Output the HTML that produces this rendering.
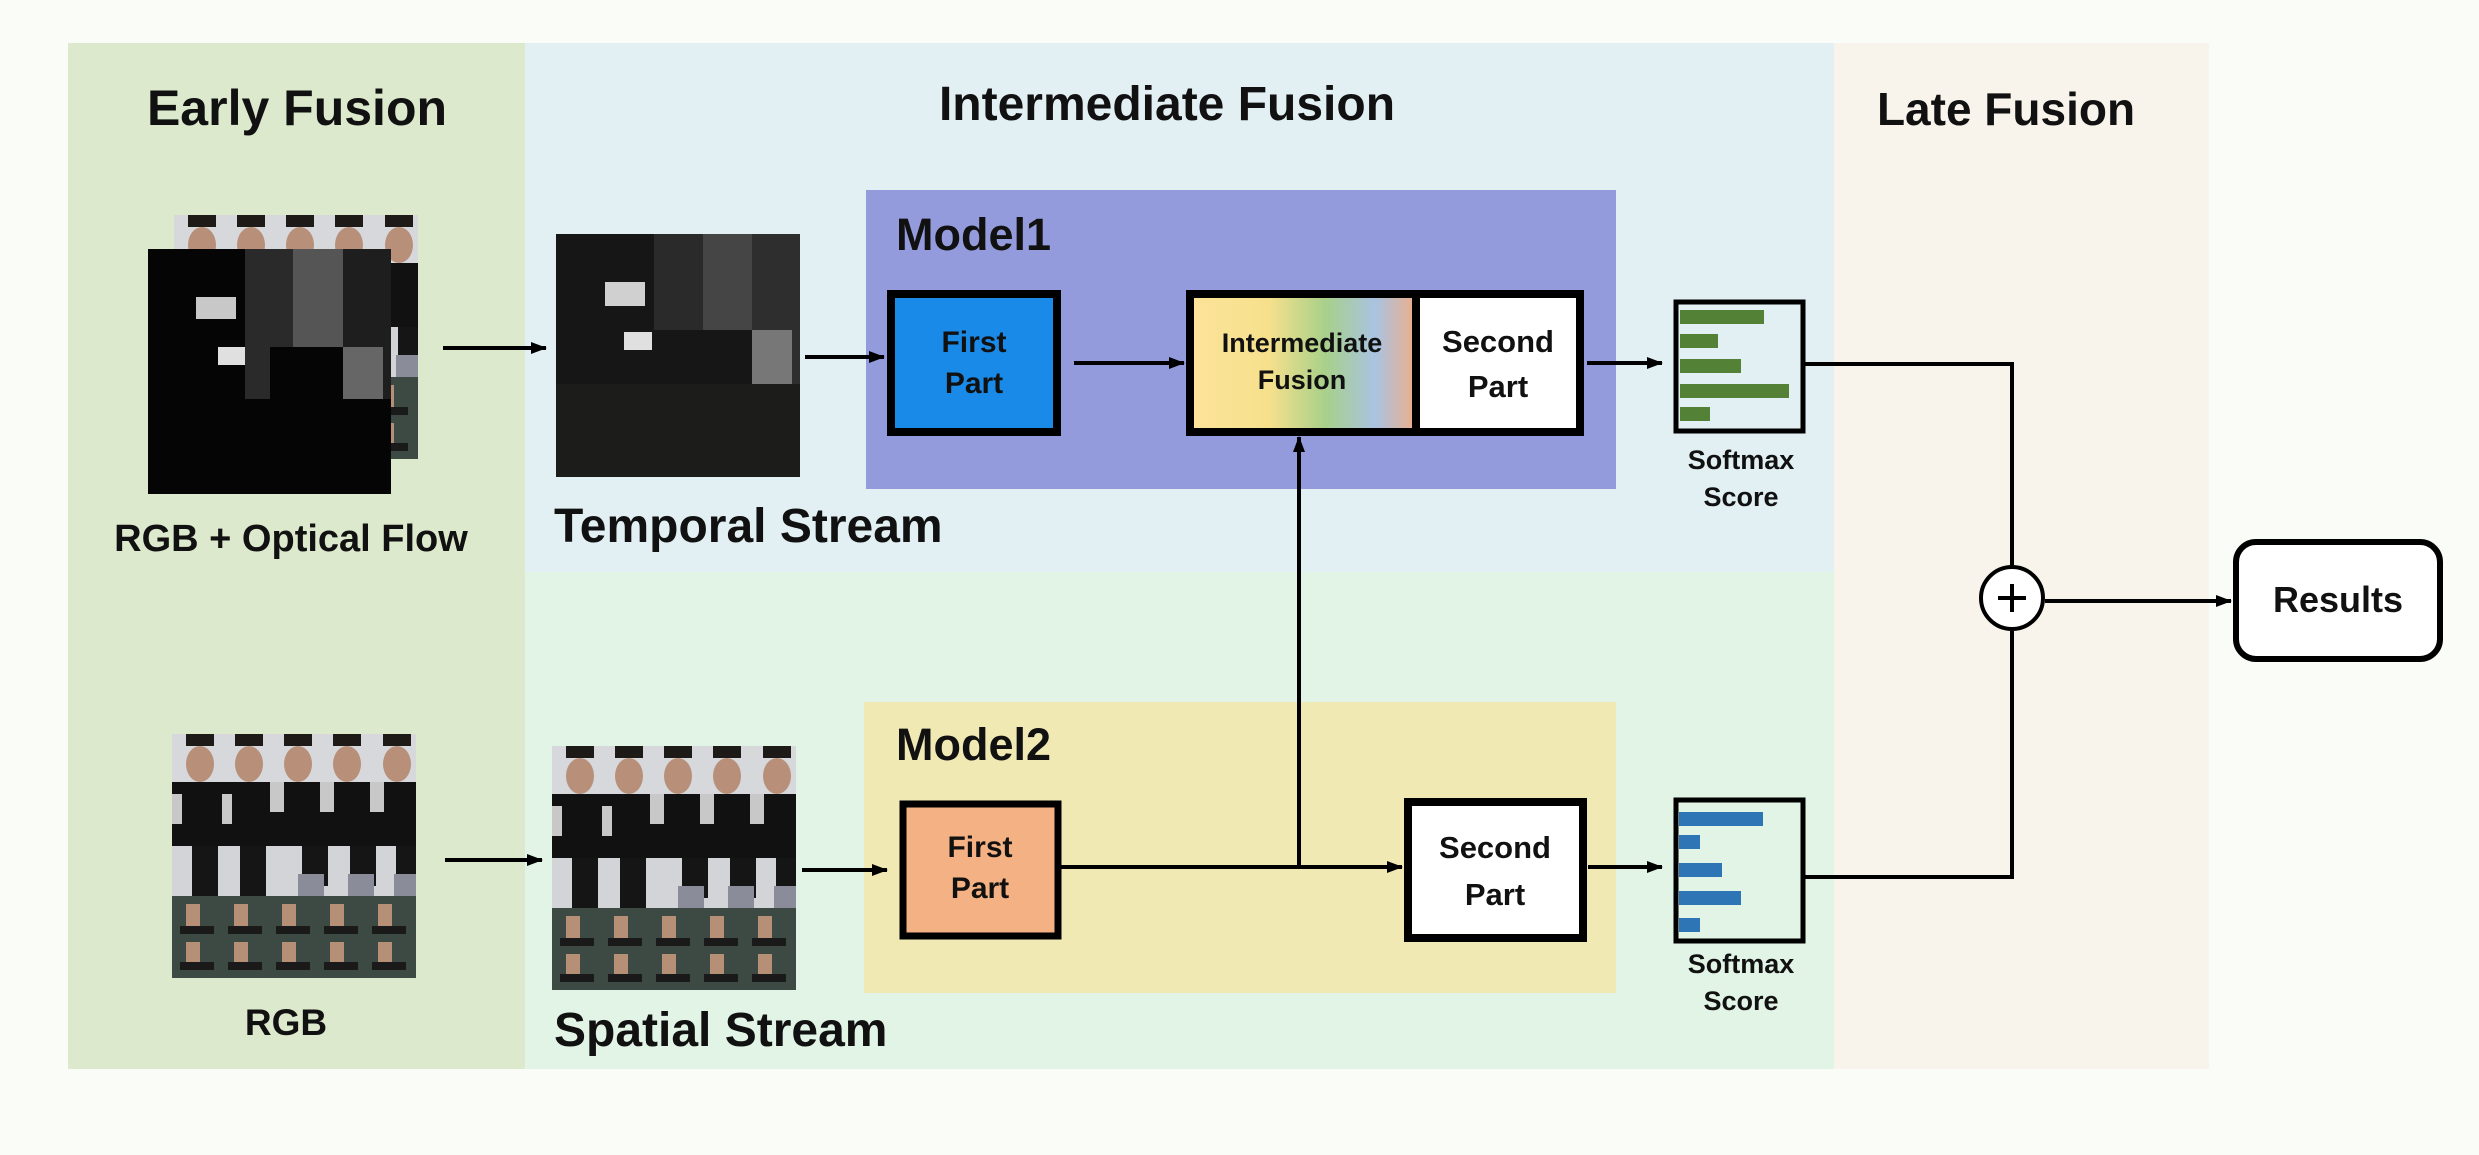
<!DOCTYPE html>
<html><head><meta charset="utf-8"><style>
html,body{margin:0;padding:0;background:#fafcf7;}
svg{display:block;}
text{font-family:"Liberation Sans",sans-serif;font-weight:bold;fill:#111;}
</style></head><body>
<svg width="2479" height="1155" viewBox="0 0 2479 1155" xmlns="http://www.w3.org/2000/svg">
<defs>
<linearGradient id="ifg" x1="0" x2="1" y1="0" y2="0">
<stop offset="0" stop-color="#fde39a"/><stop offset="0.35" stop-color="#f6e08c"/>
<stop offset="0.6" stop-color="#a8d08a"/><stop offset="0.82" stop-color="#a9c3e2"/>
<stop offset="1" stop-color="#eeae88"/></linearGradient>
<marker id="ah" markerWidth="18" markerHeight="14" refX="15" refY="6" orient="auto" markerUnits="userSpaceOnUse"><path d="M0,0 L16,6 L0,12 z"/></marker>
<g id="person">
<rect x="0" y="0" width="244" height="244" fill="#3d4a44"/>
<rect x="0" y="0" width="244" height="48" fill="#d6d8dc"/>
<g fill="#b8907a"><ellipse cx="28" cy="30" rx="14" ry="18"/><ellipse cx="77" cy="30" rx="14" ry="18"/><ellipse cx="126" cy="30" rx="14" ry="18"/><ellipse cx="175" cy="30" rx="14" ry="18"/><ellipse cx="225" cy="30" rx="14" ry="18"/></g>
<g fill="#1e1a18"><rect x="14" y="0" width="28" height="12"/><rect x="63" y="0" width="28" height="12"/><rect x="112" y="0" width="28" height="12"/><rect x="161" y="0" width="28" height="12"/><rect x="211" y="0" width="28" height="12"/></g>
<rect x="0" y="48" width="244" height="64" fill="#111"/>
<g fill="#c8c8c8"><rect x="98" y="48" width="14" height="30"/><rect x="148" y="48" width="14" height="30"/><rect x="198" y="48" width="14" height="30"/><rect x="0" y="60" width="10" height="30"/><rect x="50" y="60" width="10" height="30"/></g>
<rect x="0" y="112" width="244" height="50" fill="#d2d4d8"/>
<g fill="#151515"><rect x="20" y="112" width="26" height="50"/><rect x="68" y="112" width="26" height="50"/><rect x="130" y="112" width="26" height="40"/><rect x="178" y="112" width="26" height="40"/><rect x="224" y="112" width="20" height="40"/></g>
<g fill="#8a8c9a"><rect x="126" y="140" width="26" height="22"/><rect x="176" y="140" width="26" height="22"/><rect x="222" y="140" width="22" height="22"/></g>
<g fill="#b59076"><rect x="14" y="170" width="14" height="30"/><rect x="62" y="170" width="14" height="30"/><rect x="110" y="170" width="14" height="30"/><rect x="158" y="170" width="14" height="30"/><rect x="206" y="170" width="14" height="30"/>
<rect x="14" y="208" width="14" height="26"/><rect x="62" y="208" width="14" height="26"/><rect x="110" y="208" width="14" height="26"/><rect x="158" y="208" width="14" height="26"/><rect x="206" y="208" width="14" height="26"/></g>
<g fill="#1a1a1a"><rect x="8" y="192" width="34" height="8"/><rect x="56" y="192" width="34" height="8"/><rect x="104" y="192" width="34" height="8"/><rect x="152" y="192" width="34" height="8"/><rect x="200" y="192" width="34" height="8"/>
<rect x="8" y="228" width="34" height="8"/><rect x="56" y="228" width="34" height="8"/><rect x="104" y="228" width="34" height="8"/><rect x="152" y="228" width="34" height="8"/><rect x="200" y="228" width="34" height="8"/></g>
</g>
</defs>
<rect width="2479" height="1155" fill="#fafcf7"/>
<rect x="68" y="43" width="457" height="1026" fill="#dde9cd"/>
<rect x="525" y="43" width="1309" height="529" fill="#e2f0f3"/>
<rect x="525" y="572" width="1309" height="497" fill="#e1f4e6"/>
<rect x="1834" y="43" width="375" height="1026" fill="#f8f4ec"/>
<rect x="866" y="190" width="750" height="299" fill="#949bdc"/>
<rect x="864" y="702" width="752" height="291" fill="#f0e9b4"/>

<text x="297" y="125" font-size="50" text-anchor="middle">Early Fusion</text>
<text x="1167" y="120" font-size="48" text-anchor="middle">Intermediate Fusion</text>
<text x="2006" y="125" font-size="46" text-anchor="middle">Late Fusion</text>

<g transform="translate(174,215)"><use href="#person"/></g>
<g transform="translate(148,249)">
<rect width="243" height="245" fill="#050505"/>
<rect x="97" y="0" width="48" height="98" fill="#2a2a2a"/>
<rect x="145" y="0" width="50" height="98" fill="#555"/>
<rect x="195" y="0" width="48" height="150" fill="#1e1e1e"/>
<rect x="48" y="48" width="40" height="22" fill="#c8c8c8"/>
<rect x="70" y="98" width="28" height="18" fill="#e0e0e0"/>
<rect x="195" y="98" width="40" height="52" fill="#666"/>
<rect x="97" y="98" width="25" height="52" fill="#2a2a2a"/>
</g>
<text x="291" y="551" font-size="38" text-anchor="middle">RGB + Optical Flow</text>

<g transform="translate(556,234)">
<rect width="244" height="243" fill="#161616"/>
<rect x="98" y="0" width="49" height="96" fill="#2a2a2a"/>
<rect x="147" y="0" width="49" height="96" fill="#454545"/>
<rect x="196" y="0" width="48" height="150" fill="#2e2e2e"/>
<rect x="49" y="48" width="40" height="24" fill="#d0d0d0"/>
<rect x="68" y="98" width="28" height="18" fill="#e0e0e0"/>
<rect x="196" y="96" width="40" height="54" fill="#777"/>
<rect x="0" y="150" width="244" height="93" fill="#1c1c1a"/>
</g>
<text x="554" y="542" font-size="48">Temporal Stream</text>

<g transform="translate(172,734)"><use href="#person"/></g>
<text x="286" y="1035" font-size="37" text-anchor="middle">RGB</text>
<g transform="translate(552,746)"><use href="#person"/></g>
<text x="554" y="1046" font-size="48">Spatial Stream</text>

<text x="896" y="250" font-size="45">Model1</text>
<text x="896" y="760" font-size="45">Model2</text>

<g stroke="#000" stroke-width="4" fill="none">
<line x1="443" y1="348" x2="546" y2="348" marker-end="url(#ah)"/>
<line x1="805" y1="357" x2="884" y2="357" marker-end="url(#ah)"/>
<line x1="1074" y1="363" x2="1184" y2="363" marker-end="url(#ah)"/>
<line x1="445" y1="860" x2="542" y2="860" marker-end="url(#ah)"/>
<line x1="802" y1="870" x2="887" y2="870" marker-end="url(#ah)"/>
<line x1="1061" y1="867" x2="1402" y2="867" marker-end="url(#ah)"/>
<line x1="1299" y1="867" x2="1299" y2="437" marker-end="url(#ah)"/>
<line x1="1587" y1="363" x2="1662" y2="363" marker-end="url(#ah)"/>
<line x1="1588" y1="867" x2="1662" y2="867" marker-end="url(#ah)"/>
<polyline points="1805,364 2012,364 2012,566"/>
<polyline points="1805,877 2012,877 2012,631"/>
<line x1="2045" y1="601" x2="2231" y2="601" marker-end="url(#ah)"/>
</g>

<rect x="891" y="294" width="166" height="138" fill="#1a8ae8" stroke="#000" stroke-width="8"/>
<text x="974" y="352" font-size="30" text-anchor="middle">First</text>
<text x="974" y="393" font-size="30" text-anchor="middle">Part</text>

<rect x="1190" y="294" width="226" height="138" fill="url(#ifg)" stroke="#000" stroke-width="8"/>
<rect x="1416" y="294" width="164" height="138" fill="#fff" stroke="#000" stroke-width="8"/>
<text x="1302" y="352" font-size="27" text-anchor="middle">Intermediate</text>
<text x="1302" y="389" font-size="27" text-anchor="middle">Fusion</text>
<text x="1498" y="352" font-size="31" text-anchor="middle">Second</text>
<text x="1498" y="397" font-size="31" text-anchor="middle">Part</text>

<rect x="903" y="804" width="155" height="132" fill="#f4b183" stroke="#000" stroke-width="7"/>
<text x="980" y="857" font-size="30" text-anchor="middle">First</text>
<text x="980" y="898" font-size="30" text-anchor="middle">Part</text>

<rect x="1408" y="802" width="175" height="136" fill="#fff" stroke="#000" stroke-width="8"/>
<text x="1495" y="858" font-size="31" text-anchor="middle">Second</text>
<text x="1495" y="905" font-size="31" text-anchor="middle">Part</text>

<rect x="1676" y="302" width="127" height="129" fill="#e2f0f3" stroke="#000" stroke-width="5"/>
<g fill="#538135">
<rect x="1680" y="310" width="84" height="14"/><rect x="1680" y="334" width="38" height="14"/>
<rect x="1680" y="359" width="61" height="14"/><rect x="1680" y="384" width="109" height="14"/>
<rect x="1680" y="407" width="30" height="14"/></g>
<text x="1741" y="469" font-size="27" text-anchor="middle">Softmax</text>
<text x="1741" y="506" font-size="27" text-anchor="middle">Score</text>

<rect x="1676" y="800" width="127" height="141" fill="#e1f4e6" stroke="#000" stroke-width="5"/>
<g fill="#2e75b6">
<rect x="1679" y="812" width="84" height="14"/><rect x="1679" y="835" width="21" height="14"/>
<rect x="1679" y="863" width="43" height="14"/><rect x="1679" y="891" width="62" height="14"/>
<rect x="1679" y="918" width="21" height="14"/></g>
<text x="1741" y="973" font-size="27" text-anchor="middle">Softmax</text>
<text x="1741" y="1010" font-size="27" text-anchor="middle">Score</text>

<circle cx="2012" cy="598" r="31" fill="#fff" stroke="#000" stroke-width="4"/>
<line x1="1998" y1="598" x2="2026" y2="598" stroke="#000" stroke-width="4"/>
<line x1="2012" y1="584" x2="2012" y2="612" stroke="#000" stroke-width="4"/>

<rect x="2236" y="542" width="204" height="117" rx="20" fill="#fff" stroke="#000" stroke-width="6"/>
<text x="2338" y="612" font-size="36" text-anchor="middle">Results</text>
</svg>
</body></html>
